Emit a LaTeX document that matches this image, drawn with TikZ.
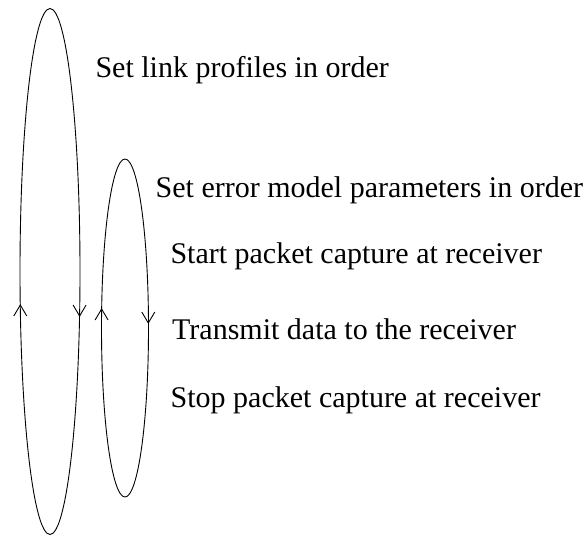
\documentclass[tikz,border=0pt]{standalone}
\usepackage{fontspec}
\setmainfont{Liberation Serif}
\usetikzlibrary{calc}
\begin{document}
\begin{tikzpicture}[x=1pt,y=1pt,
  loop/.style={draw=black,line width=0.9pt},
  barb/.style={draw=black,line width=0.9pt,line join=miter},
  label/.style={anchor=base west,inner sep=0pt,font=\fontsize{30}{34}\selectfont}]
\useasboundingbox (0,0) rectangle (585,536);
% outer loop: link profiles
\draw[loop] (50,264.5) ellipse [x radius=30, y radius=263];
% inner loop: error model parameters
\draw[loop] (125,208) ellipse [x radius=23.5, y radius=169];
% direction marks (up on the left side, down on the right side)
\coordinate (bigL) at (20.3,231);
\coordinate (bigR) at (79.6,220);
\coordinate (smallL) at (101.6,227);
\coordinate (smallR) at (148.3,213);
\draw[barb] ($(bigL)+(-6.5,-11)$) -- (bigL) -- ($(bigL)+(6.5,-11)$);
\draw[barb] ($(bigR)+(-6.5,11)$) -- (bigR) -- ($(bigR)+(6.5,11)$);
\draw[barb] ($(smallL)+(-6.5,-11)$) -- (smallL) -- ($(smallL)+(6.5,-11)$);
\draw[barb] ($(smallR)+(-6.5,11)$) -- (smallR) -- ($(smallR)+(6.5,11)$);
% step labels
\node[label] (t1) at (95.3,458) {Set link profiles in order};
\node[label] (t2) at (155.5,338.5) {Set error model parameters in order};
\node[label] (t3) at (170.3,272.5) {Start packet capture at receiver};
\node[label] (t4) at (172,197) {Transmit data to the receiver};
\node[label] (t5) at (170.5,128.5) {Stop packet capture at receiver};
\end{tikzpicture}
\end{document}
